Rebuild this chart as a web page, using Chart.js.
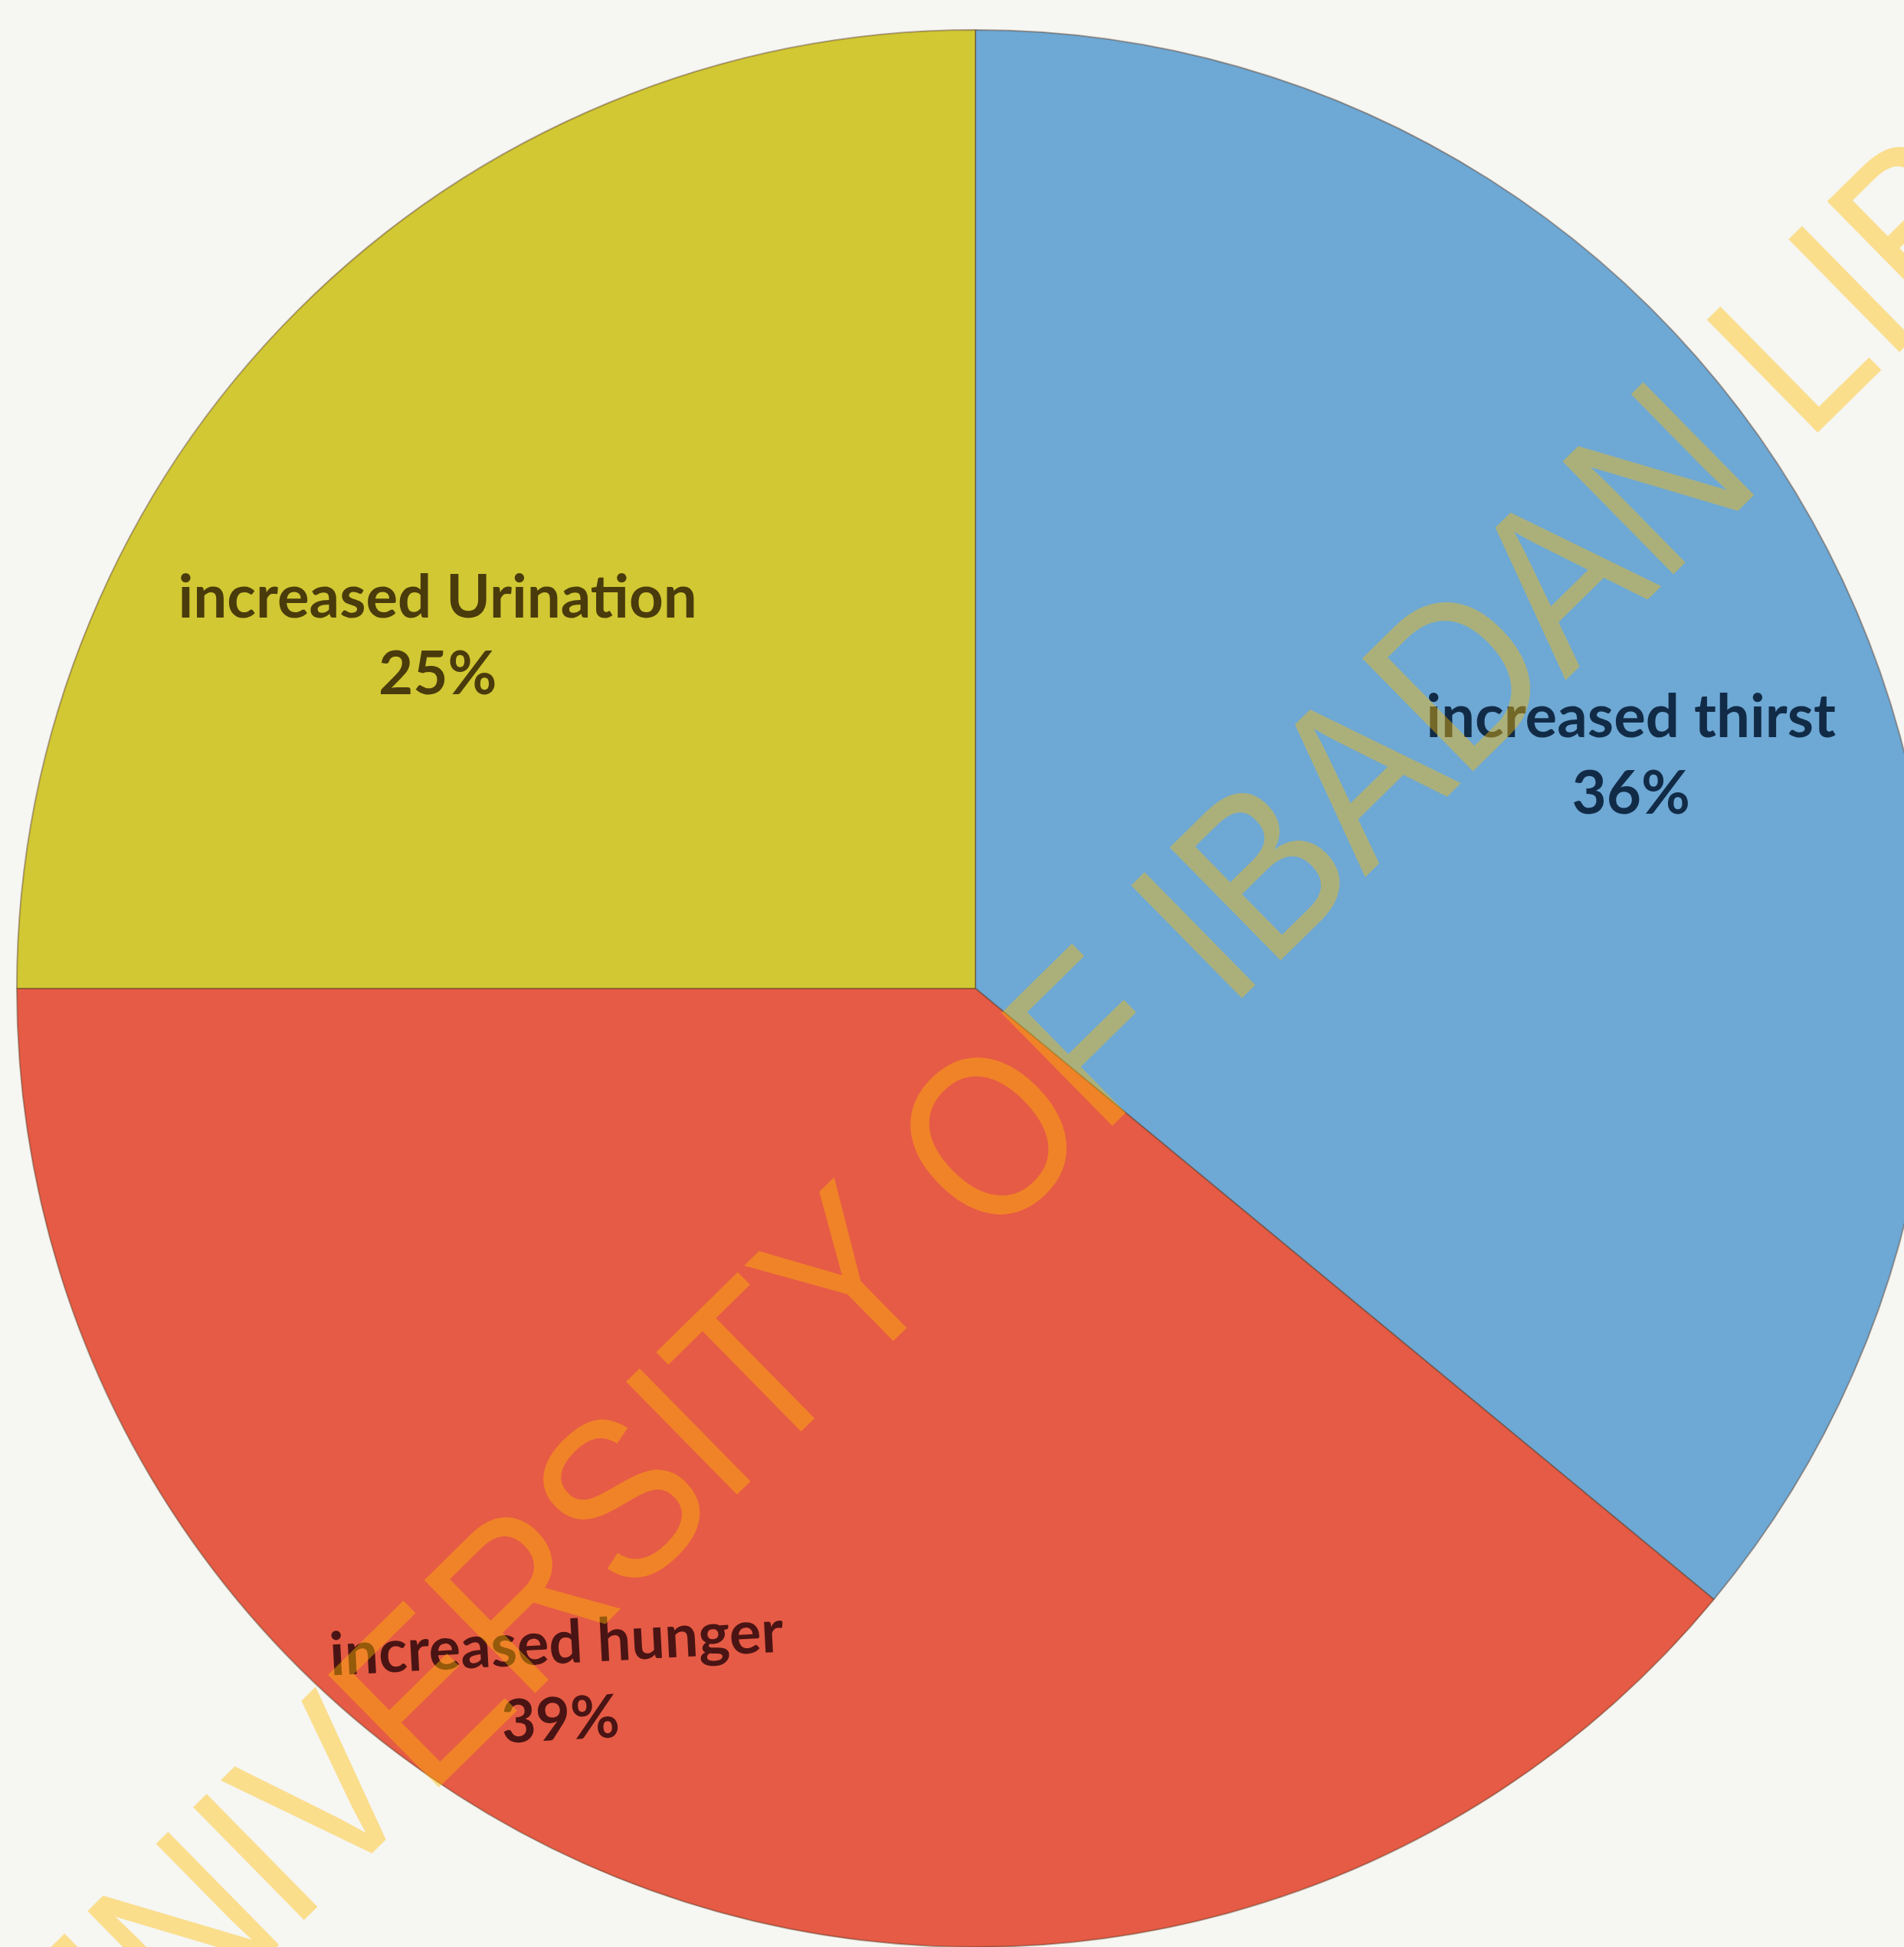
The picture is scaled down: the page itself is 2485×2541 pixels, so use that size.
<!DOCTYPE html>
<html>
<head>
<meta charset="UTF-8" />
<title>Symptoms</title>
<script src="https://cdn.jsdelivr.net/npm/chart.js@4.4.1/dist/chart.umd.min.js"></script>
<style>
    html, body {
        margin: 0;
        padding: 0;
        width: 2485px;
        height: 2541px;
        overflow: hidden;
        background-color: #f6f6f2;
    }
    #wrap {
        position: absolute;
        left: 0;
        top: 0;
        width: 2546px;
        height: 2580px;
    }
</style>
</head>
<body>
<div id="wrap"><canvas id="symptomPie"></canvas></div>
<script>
var symptomNames = ['increased thirst', 'increased hunger', 'increased Urination'];
var symptomPercents = [36, 39, 25];
var sliceColors = ['#6ea8d4', '#e65b45', '#d1c833'];
var labelInk = ['#112b47', '#4a1414', '#4a3b0c'];
// label centre as a share of the radius from the pie centre, plus a small tilt (deg)
var labelSpots = [[0.684, -0.242, 0], [-0.435, 0.724, -3], [-0.561, -0.367, 0]];
var watermarkText = 'UNIVERSITY OF IBADAN LIBRARY';

var sliceLabels = {
    id: 'sliceLabels',
    afterDatasetsDraw: function (chart) {
        var ctx = chart.ctx;
        var arcs = chart.getDatasetMeta(0).data;
        arcs.forEach(function (arc, i) {
            var r = arc.outerRadius;
            var x = arc.x + labelSpots[i][0] * r;
            var y = arc.y + labelSpots[i][1] * r;
            ctx.save();
            ctx.translate(x, y);
            ctx.rotate(labelSpots[i][2] * Math.PI / 180);
            ctx.fillStyle = labelInk[i];
            ctx.font = 'bold 78px Lato';
            ctx.textAlign = 'center';
            ctx.textBaseline = 'middle';
            ctx.fillText(chart.data.labels[i], 0, -50);
            ctx.fillText(chart.data.datasets[0].data[i] + '%', 0, 50);
            ctx.restore();
        });
    }
};

var watermark = {
    id: 'watermark',
    afterDraw: function (chart) {
        var ctx = chart.ctx;
        var arc = chart.getDatasetMeta(0).data[0];
        // the "O" of "OF" sits just below and left of the centre
        var ax = arc.x + 15;
        var ay = arc.y + 190;
        ctx.save();
        ctx.translate(ax, ay);
        ctx.rotate(-44.5 * Math.PI / 180);
        ctx.scale(0.88, 1);
        ctx.font = '300px "Liberation Sans"';
        ctx.textBaseline = 'alphabetic';
        ctx.fillStyle = 'rgba(255, 188, 0, 0.42)';
        var before = ctx.measureText('UNIVERSITY ').width + ctx.measureText('O').width / 2;
        ctx.fillText(watermarkText, -before, 107);
        ctx.restore();
    }
};

var pie = new Chart('symptomPie', {
    type: 'pie',
    data: {
        labels: symptomNames,
        datasets: [{
            data: symptomPercents,
            backgroundColor: sliceColors,
            borderColor: 'rgba(90, 60, 40, 0.45)',
            borderWidth: 2,
            hoverOffset: 0
        }]
    },
    options: {
        responsive: true,
        maintainAspectRatio: false,
        animation: false,
        events: [],
        layout: { padding: 21 },
        plugins: {
            legend: { display: false },
            tooltip: { enabled: false }
        }
    },
    plugins: [sliceLabels, watermark]
});
</script>
</body>
</html>
